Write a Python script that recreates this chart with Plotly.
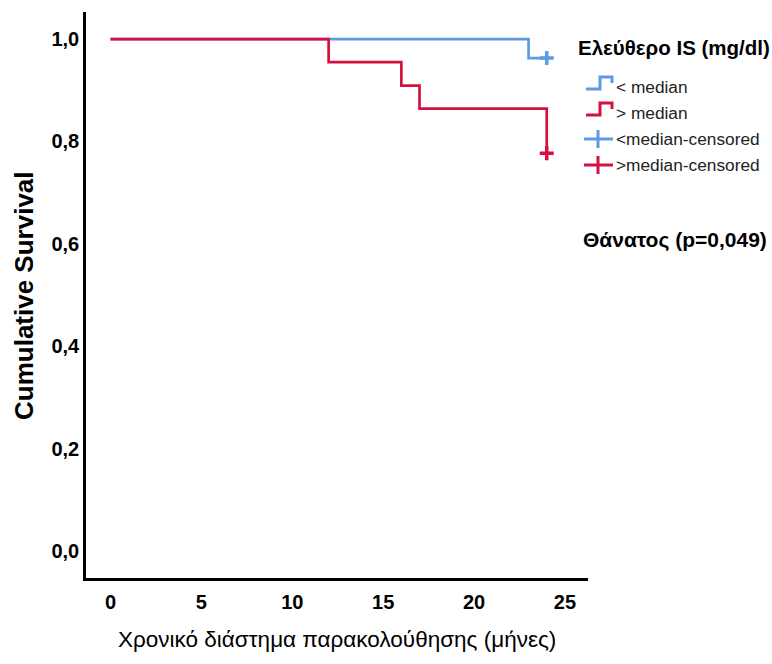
import plotly.graph_objects as go

# ---- data ----
blue_time = [0, 23, 24]
blue_surv = [1.0, 0.963, 0.963]
blue_cens_time = [24]
blue_cens_surv = [0.963]

red_time = [0, 12, 16, 17, 24]
red_surv = [1.0, 0.955, 0.909, 0.864, 0.777]
red_cens_time = [24]
red_cens_surv = [0.777]

x_ticks = [0, 5, 10, 15, 20, 25]
y_ticks = [0.0, 0.2, 0.4, 0.6, 0.8, 1.0]
y_ticktext = ["0,0", "0,2", "0,4", "0,6", "0,8", "1,0"]

legend_title = "Ελεύθερο IS (mg/dl)"
legend_labels = ["< median", "> median", "<median-censored", ">median-censored"]
note_text = "Θάνατος (p=0,049)"
x_title = "Χρονικό διάστημα παρακολούθησης (μήνες)"
y_title = "Cumulative Survival"

BLUE = "#5B9BE4"
RED = "#D5103F"
FONT = "Liberation Sans, Arial, sans-serif"

W, H = 772, 664
L, R, T, B = 86, 184, 12, 86
PW, PH = W - L - R, H - T - B


def px(x):
    return (x - L) / PW


def py(y):
    return (H - B - y) / PH


fig = go.Figure()
fig.add_trace(go.Scatter(x=blue_time, y=blue_surv, mode="lines", line=dict(color=BLUE, width=2.7, shape="hv"),
                         showlegend=False))
fig.add_trace(go.Scatter(x=red_time, y=red_surv, mode="lines", line=dict(color=RED, width=2.7, shape="hv"),
                         showlegend=False))
fig.add_trace(go.Scatter(x=blue_cens_time, y=blue_cens_surv, mode="markers",
                         marker=dict(symbol="cross-thin", size=10, line=dict(color=BLUE, width=3.5)),
                         showlegend=False))
fig.add_trace(go.Scatter(x=red_cens_time, y=red_cens_surv, mode="markers",
                         marker=dict(symbol="cross-thin", size=10, line=dict(color=RED, width=3.5)),
                         showlegend=False))

shapes = []
annotations = []

# legend glyphs (step icons)
for i, col in enumerate([BLUE, RED]):
    yl = 89 + 26 * i
    pts = [(586, yl), (600, yl), (600, yl - 12), (612, yl - 12), (612, yl - 6)]
    path = "M " + " L ".join(f"{px(a):.5f},{py(b):.5f}" for a, b in pts)
    shapes.append(dict(type="path", xref="paper", yref="paper", path=path,
                       line=dict(color=col, width=3)))
# legend crosses
for i, col in enumerate([BLUE, RED]):
    yc = 139 + 26 * i
    shapes.append(dict(type="line", xref="paper", yref="paper", x0=px(584), x1=px(613), y0=py(yc), y1=py(yc),
                       line=dict(color=col, width=3)))
    shapes.append(dict(type="line", xref="paper", yref="paper", x0=px(598), x1=px(598), y0=py(yc - 9), y1=py(yc + 9),
                       line=dict(color=col, width=3)))

annotations.append(dict(text=f"<b>{legend_title}</b>", xref="paper", yref="paper", x=px(576), y=py(47),
                        xanchor="left", yanchor="middle", showarrow=False, font=dict(size=20.5, color="black", family=FONT)))
for i, lab in enumerate(legend_labels):
    annotations.append(dict(text=lab, xref="paper", yref="paper", x=px(614), y=py(87 + 26 * i),
                            xanchor="left", yanchor="middle", showarrow=False,
                            font=dict(size=17.3, color="#222", family=FONT)))
annotations.append(dict(text=f"<b>{note_text}</b>", xref="paper", yref="paper", x=px(581), y=py(240),
                        xanchor="left", yanchor="middle", showarrow=False, font=dict(size=21, color="black", family=FONT)))
annotations.append(dict(text=f"<b>{y_title}</b>", xref="paper", yref="paper", x=px(24), y=py(296), textangle=-90,
                        xanchor="center", yanchor="middle", showarrow=False, font=dict(size=26, color="black", family=FONT)))
annotations.append(dict(text=x_title, xref="paper", yref="paper", x=px(337), y=py(640),
                        xanchor="center", yanchor="middle", showarrow=False, font=dict(size=22.5, color="black", family=FONT)))

fig.update_layout(
    width=W, height=H,
    margin=dict(l=L, r=R, t=T, b=B),
    paper_bgcolor="white", plot_bgcolor="white",
    shapes=shapes, annotations=annotations,
    xaxis=dict(range=[-1.35, 26.27], tickvals=x_ticks, showgrid=False, zeroline=False,
               showline=True, linecolor="black", linewidth=2.5, ticks="", ticklabelstandoff=4,
               tickfont=dict(size=20, color="black", family=FONT, weight="bold")),
    yaxis=dict(range=[-0.053, 1.053], tickvals=y_ticks, ticktext=y_ticktext, showgrid=False, zeroline=False,
               showline=True, linecolor="black", linewidth=2.5, ticks="", ticklabelstandoff=0,
               tickfont=dict(size=20, color="black", family=FONT, weight="bold")),
)

fig.write_html("out.html", config={"displayModeBar": False},
               post_script="document.body.style.margin='0';document.body.style.overflow='hidden';")
